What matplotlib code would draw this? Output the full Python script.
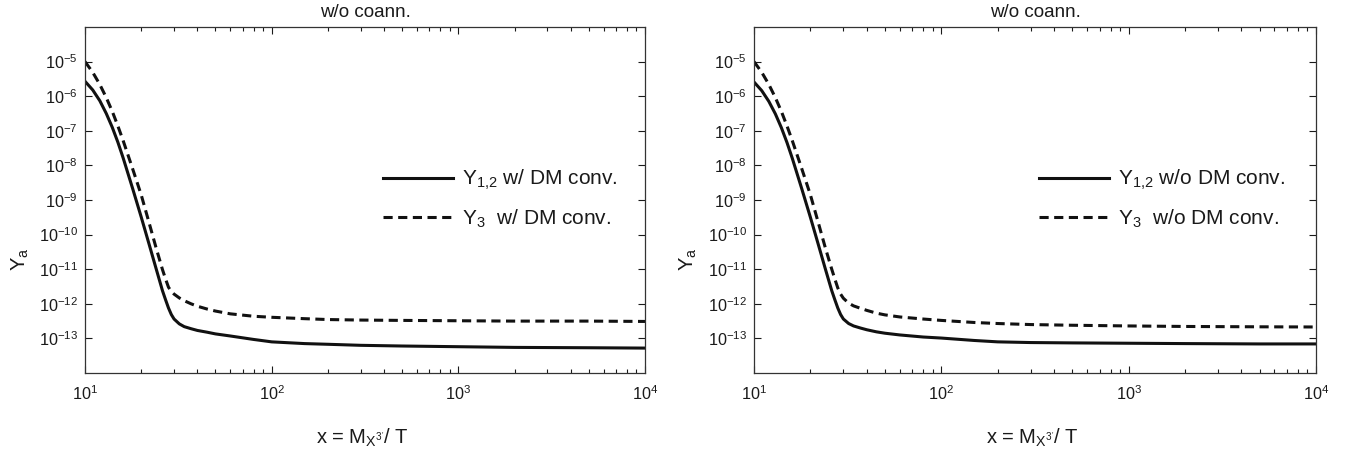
import numpy as np
import matplotlib
matplotlib.use("Agg")
import matplotlib.pyplot as plt
from matplotlib.ticker import LogLocator, NullLocator, NullFormatter

plt.rcParams['font.family'] = ['Liberation Sans', 'DejaVu Sans']
plt.rcParams['mathtext.default'] = 'regular'

# x = M/T
x = [10, 11, 12, 13, 14, 15, 16, 18, 20, 22, 24, 26, 27, 28, 29, 30, 32, 34, 37,
     40, 45, 50, 60, 80, 100, 150, 200, 300, 500, 1000, 2000, 5000, 10000]

# log10 of yields, left panel (w/ DM conv.)
left_y12_log = [-5.57, -5.82, -6.13, -6.50, -6.90, -7.33, -7.78, -8.67, -9.49,
                -10.26, -10.97, -11.62, -11.88, -12.12, -12.31, -12.44, -12.58,
                -12.66, -12.72, -12.77, -12.82, -12.87, -12.93, -13.03, -13.10,
                -13.15, -13.17, -13.20, -13.22, -13.24, -13.26, -13.27, -13.28]
left_y3_log = [-5.00, -5.31, -5.66, -6.04, -6.44, -6.86, -7.28, -8.10, -8.85,
               -9.64, -10.37, -11.01, -11.28, -11.52, -11.64, -11.72, -11.83,
               -11.91, -12.00, -12.07, -12.15, -12.21, -12.29, -12.36, -12.39,
               -12.43, -12.455, -12.47, -12.48, -12.49, -12.50, -12.50, -12.51]

# right panel (w/o DM conv.)
right_y12_log = [-5.59, -5.84, -6.15, -6.51, -6.91, -7.34, -7.79, -8.68, -9.50,
                 -10.27, -10.98, -11.62, -11.88, -12.12, -12.31, -12.44, -12.57,
                 -12.64, -12.70, -12.75, -12.81, -12.85, -12.90, -12.96, -12.99,
                 -13.06, -13.10, -13.12, -13.13, -13.14, -13.15, -13.16, -13.16]
right_y3_log = [-5.00, -5.31, -5.66, -6.04, -6.44, -6.86, -7.28, -8.10, -8.85,
                -9.64, -10.37, -11.00, -11.28, -11.54, -11.72, -11.84, -11.98,
                -12.06, -12.13, -12.19, -12.27, -12.32, -12.38, -12.44, -12.48,
                -12.54, -12.57, -12.60, -12.62, -12.64, -12.655, -12.665, -12.67]

title_text = "w/o coann."
legend_left = [r"$Y_{1{,}2}$ w/ DM conv.", r"$Y_{3}$  w/ DM conv."]
legend_right = [r"$Y_{1{,}2}$ w/o DM conv.", r"$Y_{3}$  w/o DM conv."]
xlabel = r"x = $M_{X^{3'}}$/ T"
ylabel = r"$Y_a$"

W, H = 1346, 449
fig = plt.figure(figsize=(W/100, H/100), dpi=100)
INK = '#1a1a1a'

def make_axes(left_px, width_px, y12, y3, labels, leg_x):
    ax = fig.add_axes([left_px/W, (H-373)/H, width_px/W, 346/H])
    xs = np.array(x, dtype=float)
    ax.plot(xs, 10**np.array(y12), color='#111111', lw=2.2, solid_joinstyle='round',
            label=labels[0])
    ax.plot(xs, 10**np.array(y3), color='#111111', lw=2.2, dashes=(3.0, 1.8),
            label=labels[1])
    ax.set_xscale('log')
    ax.set_yscale('log')
    ax.set_xlim(10, 1e4)
    ax.set_ylim(1e-14, 1e-4)
    ax.set_yticks([10.0**e for e in range(-13, -4)])
    ax.yaxis.set_minor_locator(NullLocator())
    ax.xaxis.set_major_locator(LogLocator(base=10, numticks=10))
    ax.xaxis.set_minor_locator(LogLocator(base=10, subs=np.arange(2, 10), numticks=10))
    ax.xaxis.set_minor_formatter(NullFormatter())
    ax.tick_params(which='both', direction='in', top=True, right=True,
                   labelsize=11.7, colors=INK, width=0.8)
    ax.tick_params(which='major', length=5)
    ax.tick_params(which='minor', length=3)
    ax.tick_params(axis='x', which='major', pad=8)
    ax.tick_params(axis='y', which='major', pad=5)
    for s in ax.spines.values():
        s.set_linewidth(0.9)
        s.set_color('#333333')
    ax.set_title(title_text, fontsize=13.5, pad=7, color=INK)
    ax.set_xlabel(xlabel, fontsize=14.5, color=INK)
    ax.xaxis.set_label_coords(0.495, -0.155)
    ax.set_ylabel(ylabel, fontsize=14.5, color=INK)
    ax.yaxis.set_label_coords(-0.097, 0.33)
    ax.legend(loc='center left', bbox_to_anchor=(leg_x, 0.503), frameon=False,
              fontsize=15, handlelength=3.36, handletextpad=0.43, labelspacing=0.75,
              borderpad=0, borderaxespad=0, labelcolor=INK)
    return ax

make_axes(85, 560, left_y12_log, left_y3_log, legend_left, 0.532)
make_axes(754, 562, right_y12_log, right_y3_log, legend_right, 0.507)

fig.savefig("out.png", dpi=100)
